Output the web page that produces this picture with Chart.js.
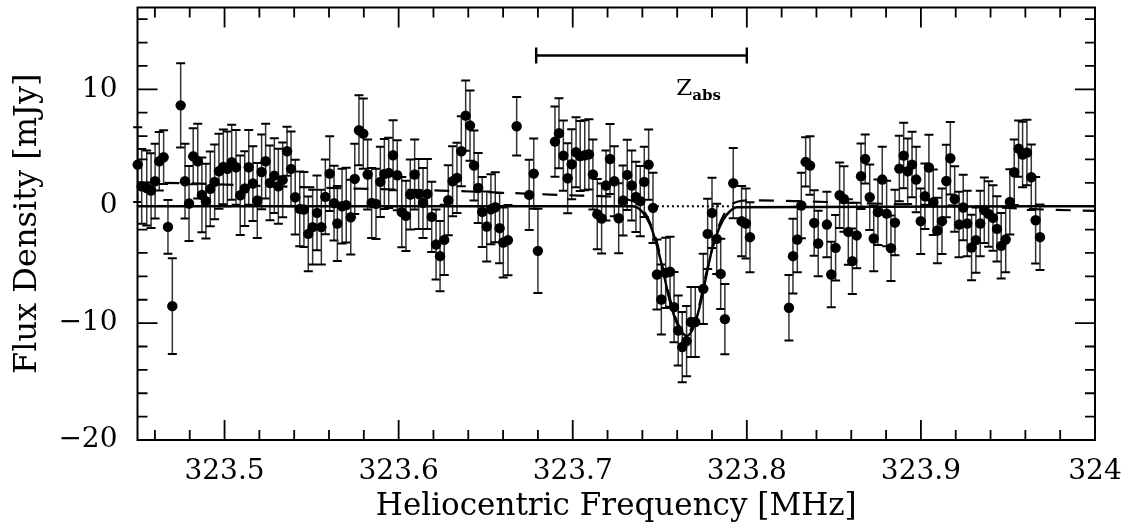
<!DOCTYPE html>
<html>
<head>
<meta charset="utf-8">
<script src="https://cdn.jsdelivr.net/npm/chart.js@4.4.1/dist/chart.umd.min.js"></script>
<style>
  html, body { margin: 0; padding: 0; background: #fff; }
</style>
</head>
<body>
<canvas id="spec" width="1129" height="527"></canvas>
<script>
// channel frequencies [MHz] and flux densities [mJy]
const freq = [
  323.4501, 323.4524, 323.4553, 323.4578, 323.4601, 323.4625, 323.4650, 323.4675, 323.4700, 323.4748,
  323.4773, 323.4796, 323.4820, 323.4846, 323.4870, 323.4893, 323.4918, 323.4943, 323.4968, 323.4993,
  323.5016, 323.5041, 323.5066, 323.5090, 323.5116, 323.5139, 323.5163, 323.5188, 323.5213, 323.5236,
  323.5261, 323.5286, 323.5309, 323.5334, 323.5359, 323.5382, 323.5406, 323.5432, 323.5456, 323.5481,
  323.5506, 323.5531, 323.5556, 323.5579, 323.5604, 323.5629, 323.5648, 323.5675, 323.5699, 323.5725,
  323.5748, 323.5772, 323.5797, 323.5822, 323.5845, 323.5870, 323.5895, 323.5918, 323.5943, 323.5968,
  323.5992, 323.6018, 323.6042, 323.6067, 323.6092, 323.6115, 323.6140, 323.6165, 323.6190, 323.6215,
  323.6238, 323.6262, 323.6285, 323.6310, 323.6335, 323.6360, 323.6385, 323.6410, 323.6433, 323.6457,
  323.6480, 323.6506, 323.6530, 323.6555, 323.6580, 323.6601, 323.6628, 323.6678, 323.6750, 323.6776,
  323.6800, 323.6898, 323.6921, 323.6946, 323.6971, 323.6994, 323.7019, 323.7043, 323.7069, 323.7093,
  323.7116, 323.7141, 323.7166, 323.7191, 323.7214, 323.7239, 323.7264, 323.7289, 323.7313, 323.7339,
  323.7363, 323.7388, 323.7411, 323.7436, 323.7461, 323.7484, 323.7509, 323.7534, 323.7559, 323.7582,
  323.7606, 323.7629, 323.7654, 323.7679, 323.7704, 323.7750, 323.7775, 323.7800, 323.7827, 323.7850,
  323.7874, 323.7922, 323.7970, 323.7995, 323.8018,
  323.8242, 323.8265, 323.8290, 323.8313, 323.8338, 323.8363, 323.8387, 323.8410, 323.8460, 323.8485,
  323.8510, 323.8533, 323.8558, 323.8583, 323.8606, 323.8631, 323.8656, 323.8680, 323.8706, 323.8729,
  323.8753, 323.8778, 323.8803, 323.8828, 323.8851, 323.8876, 323.8901, 323.8924, 323.8949, 323.8973,
  323.8999, 323.9023, 323.9046, 323.9071, 323.9095, 323.9121, 323.9146, 323.9169, 323.9194, 323.9219,
  323.9243, 323.9266, 323.9291, 323.9316, 323.9341, 323.9364, 323.9389, 323.9414, 323.9437, 323.9461,
  323.9487, 323.9511, 323.9536, 323.9561, 323.9584, 323.9609, 323.9634, 323.9659, 323.9684
];
const flux = [
  3.56, 1.70, 1.56, 1.34, 2.14, 3.85, 4.19, -1.77, -8.55, 8.63,
  2.14, 0.23, 4.27, 3.85, 0.97, 0.43, 1.48, 2.08, 2.99, 3.36,
  3.19, 3.76, 3.33, 0.94, 1.51, 3.33, 1.94, 0.49, 2.93, 3.85,
  1.99, 2.62, 1.71, 2.25, 4.70, 3.19, 0.77, -0.23, -0.28, -2.37,
  -1.79, -0.57, -1.79, 0.80, 2.79, 0.26, -1.48, 0.00, 0.09, -0.94,
  2.34, 6.50, 6.21, 2.71, 0.28, 0.20, 2.08, 2.76, 2.85, 4.36,
  2.65, -0.51, -0.83, 1.00, 2.71, 1.05, 0.28, 1.05, -0.91, -3.28,
  -4.27, -2.88, 0.51, 2.14, 2.42, 4.70, 7.75, 6.90, 3.48, 1.56,
  -0.49, -1.74, -0.26, -0.09, -1.88, -3.10, -2.90, 6.84, 0.97, 2.79,
  -3.82, 5.53, 6.24, 4.33, 2.39, 3.59, 4.62, 4.30, 4.36, 4.44,
  2.71, -0.68, -1.05, 1.77, 4.04, 2.14, -1.03, 0.49, 2.68, 1.77,
  0.80, 0.43, 2.08, 3.56, -0.14, -5.84, -7.98, -5.70, -5.61, -8.63,
  -10.63, -12.05, -11.54, -9.91, -9.91, -7.07, -2.37, -0.57, -2.79, -5.79,
  -9.66, 1.97, -1.28, -1.48, -2.65,
  -8.69, -4.27, -2.85, 0.06, 3.79, 3.48, -1.43, -3.19, -1.57, -5.84,
  -3.56, 0.94, 0.62, -2.20, -4.70, -2.50, 2.56, 4.04, 0.77, -2.76,
  -0.51, 2.28, -0.63, -3.59, -1.40, 3.22, 4.33, 2.99, 3.56, 2.28,
  -1.28, 0.85, 3.31, 0.34, -2.08, -1.28, 2.16, 4.10, 0.62, -1.57,
  -0.11, -1.48, -3.53, -2.90, -1.48, -0.34, -0.66, -1.00, -1.94, -3.39,
  -2.85, 0.37, 2.91, 4.93, 4.42, 4.59, 2.48, -1.20, -2.65
];
const fluxErr = [
  3.2, 3.2, 3.2, 3.2, 3.2, 2.5, 2.3, 2.3, 4.1, 3.6,
  3.2, 3.2, 2.4, 3.2, 3.2, 3.2, 3.2, 3.2, 3.2, 3.2,
  3.2, 3.2, 3.2, 3.4, 3.2, 3.2, 3.2, 3.2, 3.2, 3.2,
  3.2, 3.2, 3.2, 3.2, 2.1, 3.2, 3.2, 3.2, 3.2, 3.2,
  3.2, 3.2, 3.2, 3.2, 3.2, 3.2, 3.2, 3.2, 3.2, 3.2,
  3.0, 3.0, 3.0, 3.0, 3.0, 3.0, 3.0, 3.0, 3.0, 3.0,
  3.0, 3.0, 3.0, 3.0, 3.0, 3.0, 3.0, 3.0, 3.0, 3.0,
  3.0, 3.0, 3.0, 3.0, 3.0, 3.0, 3.0, 3.0, 3.0, 3.0,
  3.0, 3.0, 3.0, 3.0, 3.0, 3.0, 3.0, 2.5, 3.0, 3.0,
  3.6, 3.0, 3.0, 3.0, 3.0, 3.0, 3.0, 3.0, 3.0, 3.0,
  3.0, 3.0, 3.0, 3.0, 3.0, 3.0, 3.0, 3.0, 3.0, 3.0,
  3.0, 3.0, 3.0, 3.0, 3.0, 3.0, 3.0, 3.0, 3.0, 3.0,
  3.0, 3.0, 3.0, 3.0, 3.0, 3.0, 3.0, 3.0, 3.0, 3.0,
  3.0, 3.0, 3.0, 3.0, 3.0,
  2.8, 3.2, 2.8, 2.8, 2.1, 2.5, 2.8, 2.8, 2.8, 2.8,
  2.8, 2.8, 2.8, 2.8, 2.8, 2.8, 2.8, 2.1, 2.8, 2.8,
  2.8, 2.8, 2.8, 2.8, 2.8, 2.8, 2.8, 2.8, 2.8, 2.8,
  2.8, 2.8, 2.8, 2.8, 2.8, 2.8, 3.1, 3.1, 2.8, 2.8,
  2.8, 2.8, 2.8, 2.8, 2.8, 2.8, 2.8, 2.8, 2.8, 2.8,
  2.8, 2.8, 2.8, 2.4, 2.8, 2.8, 2.8, 3.7, 2.8
];

// fitted absorption profile (solid) and smooth continuum + line model (dashed)
const fitFreq = [323.45, 323.7346, 323.7405, 323.7444, 323.7482, 323.7511, 323.7540, 323.7568, 323.7597, 323.7626,
  323.7654, 323.7683, 323.7712, 323.7741, 323.7769, 323.7798, 323.7827, 323.7865, 323.7903, 323.7942, 324.0];
const fitFlux = [0, 0, -0.57, -1.57, -3.28, -4.99, -6.98, -8.69, -9.97, -10.74,
  -11.1, -10.7, -9.55, -7.84, -5.84, -3.85, -2.42, -1.14, -0.43, -0.09, 0];
const baseFreq = [323.45, 323.48, 323.53, 323.577, 323.624, 323.687, 323.704, 323.719, 323.730, 323.7405,
  323.7482, 323.7540, 323.7597, 323.7654, 323.7712, 323.7769, 323.7827, 323.7885, 323.795, 323.803,
  323.83, 323.88, 323.93, 323.965, 324.0];
const baseFlux = [2.05, 1.95, 1.7, 1.5, 1.34, 1.0, 0.91, 0.85, 0.65, -0.3,
  -3.0, -6.8, -9.8, -10.9, -9.3, -5.6, -2.2, -0.3, 0.4, 0.5,
  0.43, 0.2, 0.0, -0.25, -0.4];
const zeroFreq = [323.7455, 323.792];
const zeroFlux = [0, 0];

const xTickValues = [323.5, 323.6, 323.7, 323.8, 323.9, 324];
const xTickLabels = ['323.5', '323.6', '323.7', '323.8', '323.9', '324'];
const yTickValues = [-20, -10, 0, 10];
const yTickLabels = ['\u221220', '\u221210', '0', '10'];

// redshift range marker
const zabsRange = [323.679, 323.800];
const zabsLevel = 12.9;

const serif = 'DejaVu Serif';

const errorBars = {
  id: 'errorBars',
  beforeDatasetsDraw(chart) {
    const { ctx, scales: { x, y } } = chart;
    ctx.save();
    freq.forEach((f, i) => {
      const px = x.getPixelForValue(f);
      const top = y.getPixelForValue(flux[i] + fluxErr[i]);
      const bot = y.getPixelForValue(flux[i] - fluxErr[i]);
      ctx.strokeStyle = '#333';
      ctx.lineWidth = 1.5;
      ctx.beginPath();
      ctx.moveTo(px, top);
      ctx.lineTo(px, bot);
      ctx.stroke();
      ctx.strokeStyle = '#000';
      ctx.lineWidth = 2;
      ctx.beginPath();
      ctx.moveTo(px - 4.5, top);
      ctx.lineTo(px + 4.5, top);
      ctx.moveTo(px - 4.5, bot);
      ctx.lineTo(px + 4.5, bot);
      ctx.stroke();
    });
    ctx.restore();
  }
};

// boxed frame with inward ticks on all four sides, plus the z_abs bar
const frame = {
  id: 'frame',
  afterDraw(chart) {
    const { ctx, chartArea: a, scales: { x, y } } = chart;
    ctx.save();
    ctx.strokeStyle = '#000';
    ctx.lineWidth = 2;
    ctx.strokeRect(a.left, a.top, a.right - a.left, a.bottom - a.top);

    ctx.lineWidth = 1.8;
    ctx.beginPath();
    for (let k = 0; k <= 27; k++) {
      const v = 323.46 + k * 0.02;
      const major = xTickValues.some(t => Math.abs(t - v) < 1e-6);
      const len = major ? 20 : 10;
      const px = x.getPixelForValue(v);
      ctx.moveTo(px, a.bottom); ctx.lineTo(px, a.bottom - len);
      ctx.moveTo(px, a.top); ctx.lineTo(px, a.top + len);
    }
    for (let v = -18; v <= 16; v += 2) {
      const major = yTickValues.includes(v);
      const len = major ? 20 : 10;
      const py = y.getPixelForValue(v);
      ctx.moveTo(a.left, py); ctx.lineTo(a.left + len, py);
      ctx.moveTo(a.right, py); ctx.lineTo(a.right - len, py);
    }
    ctx.stroke();

    // z_abs range bar
    const x1 = x.getPixelForValue(zabsRange[0]);
    const x2 = x.getPixelForValue(zabsRange[1]);
    const zy = y.getPixelForValue(zabsLevel);
    ctx.lineWidth = 2.4;
    ctx.beginPath();
    ctx.moveTo(x1, zy); ctx.lineTo(x2, zy);
    ctx.moveTo(x1, zy - 8); ctx.lineTo(x1, zy + 8);
    ctx.moveTo(x2, zy - 8); ctx.lineTo(x2, zy + 8);
    ctx.stroke();

    ctx.fillStyle = '#000';
    ctx.textBaseline = 'alphabetic';
    ctx.textAlign = 'left';
    const lx = x.getPixelForValue(323.7595);
    const ly = y.getPixelForValue(9.5);
    ctx.font = '23px "' + serif + '"';
    ctx.fillText('Z', lx, ly);
    const zw = ctx.measureText('Z').width;
    ctx.font = 'bold 15px "' + serif + '"';
    ctx.fillText('abs', lx + zw, ly + 5);
    ctx.restore();
  }
};

const toPts = (xs, ys) => xs.map((v, i) => ({ x: v, y: ys[i] }));

const noPad = s => { s.paddingTop = 0; s.paddingBottom = 0; s.paddingLeft = 0; s.paddingRight = 0; };

new Chart(document.getElementById('spec'), {
  type: 'scatter',
  data: {
    datasets: [
      {
        label: 'Flux density',
        data: toPts(freq, flux),
        pointRadius: 5.2,
        pointBackgroundColor: '#000',
        pointBorderWidth: 0,
        showLine: false,
        clip: 8
      },
      {
        label: 'Fit',
        data: toPts(fitFreq, fitFlux),
        showLine: true,
        borderColor: '#000',
        borderWidth: 2.4,
        pointRadius: 0,
        cubicInterpolationMode: 'monotone'
      },
      {
        label: 'Model',
        data: toPts(baseFreq, baseFlux),
        showLine: true,
        borderColor: '#000',
        borderWidth: 2.2,
        borderDash: [15, 12],
        pointRadius: 0,
        cubicInterpolationMode: 'monotone'
      },
      {
        label: 'Zero',
        data: toPts(zeroFreq, zeroFlux),
        showLine: true,
        borderColor: '#000',
        borderWidth: 2,
        borderDash: [2, 3],
        pointRadius: 0
      }
    ]
  },
  options: {
    responsive: false,
    animation: false,
    devicePixelRatio: 1,
    events: [],
    layout: { padding: { top: 7.5, right: 34, left: 0, bottom: 0 } },
    plugins: { legend: { display: false }, tooltip: { enabled: false } },
    scales: {
      x: {
        type: 'linear',
        min: 323.45,
        max: 324,
        grid: { display: false, drawTicks: false },
        border: { display: false },
        afterBuildTicks: s => { s.ticks = xTickValues.map(v => ({ value: v })); },
        afterFit: s => { s.height = 87; noPad(s); },
        ticks: {
          color: '#000',
          font: { family: serif, size: 28 },
          padding: 15,
          maxRotation: 0,
          autoSkip: false,
          callback: (v, i) => xTickLabels[i]
        },
        title: {
          display: true,
          text: 'Heliocentric Frequency [MHz]',
          color: '#000',
          font: { family: serif, size: 31 },
          padding: { top: 0, bottom: 1 }
        }
      },
      y: {
        type: 'linear',
        min: -20,
        max: 17,
        grid: { display: false, drawTicks: false },
        border: { display: false },
        afterBuildTicks: s => { s.ticks = yTickValues.map(v => ({ value: v })); },
        afterFit: s => { s.width = 137.5; noPad(s); },
        ticks: {
          color: '#000',
          font: { family: serif, size: 28 },
          padding: 20,
          autoSkip: false,
          callback: (v, i) => yTickLabels[i]
        },
        title: {
          display: true,
          text: 'Flux Density [mJy]',
          color: '#000',
          font: { family: serif, size: 32 },
          padding: { top: 8, bottom: 0 }
        }
      }
    }
  },
  plugins: [errorBars, frame]
});
</script>
</body>
</html>
